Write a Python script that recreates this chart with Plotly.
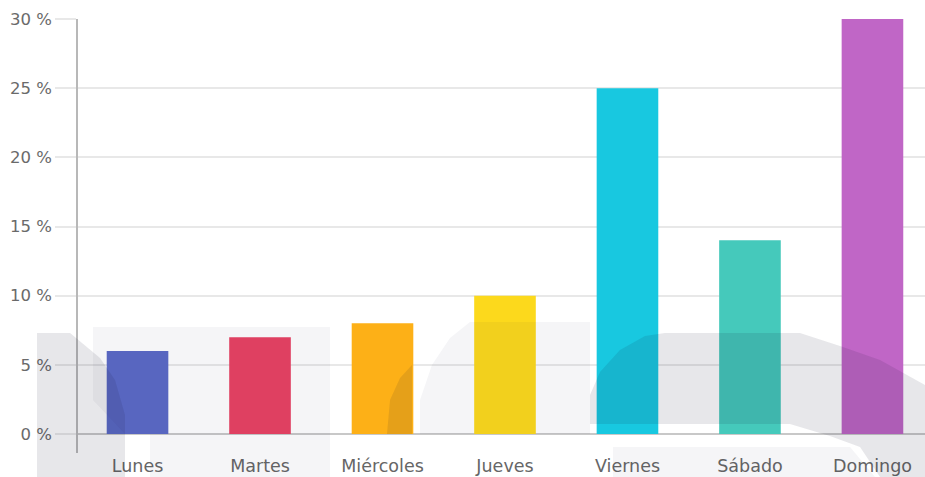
import plotly.graph_objects as go

# ---- data ----
dias = ["Lunes", "Martes", "Miércoles", "Jueves", "Viernes", "Sábado", "Domingo"]
porcentajes = [6, 7, 8, 10, 25, 14, 30]
colores = ["#5b6ac6", "#e94263", "#fdb017", "#fcd91c", "#18c8e0", "#45c9bb", "#c066c6"]
y_ticks = [0, 5, 10, 15, 20, 25, 30]
y_tick_labels = ["0 %", "5 %", "10 %", "15 %", "20 %", "25 %", "30 %"]

W, H = 925, 477
ML, MR, MT, MB = 78, 0, 19, 24
PW, PH = W - ML - MR, H - MT - MB


def P(x, y):
    """pixel -> paper coords for decorative watermark"""
    return (x - ML) / PW, (H - MB - y) / PH


def path(pts):
    s = ""
    for i, (x, y) in enumerate(pts):
        px, py = P(x, y)
        s += ("M" if i == 0 else "L") + f"{px:.4f},{py:.4f} "
    return s + "Z"


dark = "rgba(20,20,50,0.10)"
light = "rgba(20,20,60,0.045)"

wm = [
    # light left block
    (light, [(93, 327), (330, 327), (330, 477), (150, 477), (150, 434), (125, 434), (93, 400)]),
    # dark left bar
    (dark, [(37, 333), (70, 333), (100, 358), (115, 380), (125, 415), (125, 477), (37, 477)]),
    # small dark corner in Miércoles
    (dark, [(412, 365), (412, 434), (387, 434), (390, 400), (400, 378)]),
    # light arc
    (light, [(420, 434), (420, 400), (432, 365), (450, 338), (470, 322), (590, 322), (590, 434)]),
    # dark big shape right
    (dark, [(590, 424), (590, 395), (600, 372), (620, 350), (645, 336), (665, 333), (800, 333),
            (840, 346), (880, 360), (925, 385), (925, 477), (880, 477), (860, 447), (830, 436), (790, 424)]),
    # light lower right
    (light, [(613, 447), (850, 447), (875, 477), (613, 477)]),
]

shapes = []
for col, pts in wm:
    shapes.append(dict(type="path", xref="paper", yref="paper", path=path(pts),
                       fillcolor=col, line=dict(width=0), layer="above"))

fig = go.Figure(go.Bar(x=dias, y=porcentajes, marker=dict(color=colores, line=dict(width=0)),
                       hoverinfo="x+y"))

fig.update_layout(
    width=W, height=H,
    margin=dict(l=ML, r=MR, t=MT, b=MB, pad=0),
    paper_bgcolor="white", plot_bgcolor="white",
    bargap=0.497,
    showlegend=False,
    font=dict(family="DejaVu Sans", size=17, color="#6a6a6a"),
    shapes=shapes,
    xaxis=dict(range=[-0.486, 6.429], showgrid=False, zeroline=False, showline=False,
               ticks="", tickfont=dict(size=17.5, color="#666666"), fixedrange=True),
    yaxis=dict(range=[-1.37, 30], tickvals=y_ticks, ticktext=y_tick_labels,
               showgrid=True, gridcolor="#e8e8e8", gridwidth=1.5,
               zeroline=True, zerolinecolor="#c8c8c8", zerolinewidth=1.5,
               showline=True, linecolor="#b8b8b8", linewidth=1.5,
               ticks="outside", ticklen=21, tickcolor="#e8e8e8", tickwidth=1.5,
               tickfont=dict(size=16.5, color="#6a6a6a"), fixedrange=True),
)

fig.write_html("out.html")
